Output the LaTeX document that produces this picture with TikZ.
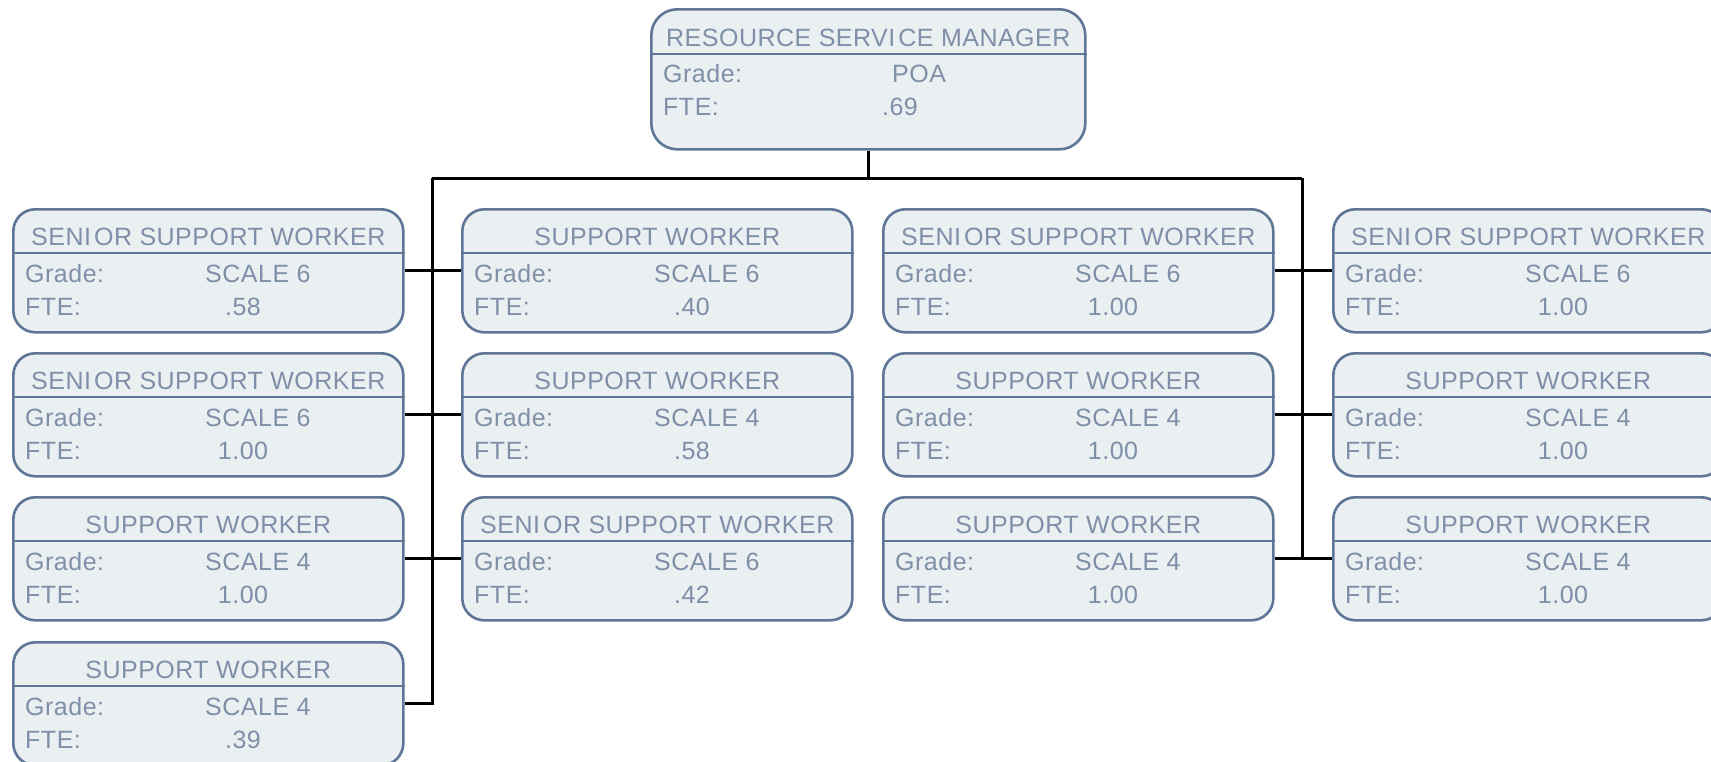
\documentclass[tikz,border=0pt]{standalone}
\usepackage{fontspec}
\newfontfamily\cardfont{Liberation Sans}[LetterSpace=2]
\definecolor{cardborder}{HTML}{5F7697}
\definecolor{cardfill}{HTML}{EAEFF2}
\definecolor{cardtext}{HTML}{7F8FA8}
\tikzset{
  cardbox/.style={draw=cardborder, fill=cardfill, line width=2.6pt, rounded corners=22pt,
    rectangle, inner sep=0pt, minimum width=390pt, minimum height=123pt, anchor=north west},
  sepline/.style={draw=cardborder, line width=2.6pt},
  cardtxt/.style={inner sep=0pt, text=cardtext, font=\cardfont\fontsize{25}{30}\selectfont},
  conn/.style={draw=black, line width=3pt},
}
\newcommand\SENIOR{SENI\kern3pt OR}
\newcommand\orgcard[6]{%
  \node[cardbox] (#1) at (#2,#3) {};
  \draw[sepline] ([yshift=-45pt]#1.north west) -- ([yshift=-45pt]#1.north east);
  \node[cardtxt, anchor=base] (#1-t) at ([yshift=-37pt]#1.north) {#4};
  \node[cardtxt, anchor=base west] (#1-gl) at ([xshift=13pt,yshift=-74pt]#1.north west) {Grade:};
  \node[cardtxt, anchor=base west] (#1-gv) at ([xshift=193pt,yshift=-74pt]#1.north west) {#5};
  \node[cardtxt, anchor=base west] (#1-fl) at ([xshift=13pt,yshift=-107pt]#1.north west) {FTE:};
  \node[cardtxt, anchor=base] (#1-fv) at ([xshift=231pt,yshift=-107pt]#1.north west) {#6};
}
\begin{document}
\begin{tikzpicture}[x=1pt,y=-1pt]
\useasboundingbox (0,0) rectangle (1711,761);
\clip (0,0) rectangle (1711,761);
\fill[white] (0,0) rectangle (1711,761);
% top box
\node[cardbox, minimum width=434pt, minimum height=140pt, rounded corners=26pt] (top) at (650,8) {};
\draw[sepline] ([yshift=-46pt]top.north west) -- ([yshift=-46pt]top.north east);
\node[cardtxt, anchor=base] (top-t) at ([yshift=-38.5pt]top.north) {RESOURCE SERVI\kern3pt CE MANAGER};
\node[cardtxt, anchor=base west] (top-gl) at ([xshift=13pt,yshift=-74pt]top.north west) {Grade:};
\node[cardtxt, anchor=base west] (top-gv) at ([xshift=242pt,yshift=-74pt]top.north west) {POA};
\node[cardtxt, anchor=base west] (top-fl) at ([xshift=13pt,yshift=-107pt]top.north west) {FTE:};
\node[cardtxt, anchor=base] (top-fv) at ([xshift=250pt,yshift=-107pt]top.north west) {.69};
% column 1
\orgcard{c11}{12}{208}{\SENIOR{} SUPPORT WORKER}{SCALE 6}{.58}
\orgcard{c12}{12}{352}{\SENIOR{} SUPPORT WORKER}{SCALE 6}{1.00}
\orgcard{c13}{12}{496}{SUPPORT WORKER}{SCALE 4}{1.00}
\orgcard{c14}{12}{641}{SUPPORT WORKER}{SCALE 4}{.39}
% column 2
\orgcard{c21}{461}{208}{SUPPORT WORKER}{SCALE 6}{.40}
\orgcard{c22}{461}{352}{SUPPORT WORKER}{SCALE 4}{.58}
\orgcard{c23}{461}{496}{\SENIOR{} SUPPORT WORKER}{SCALE 6}{.42}
% column 3
\orgcard{c31}{882}{208}{\SENIOR{} SUPPORT WORKER}{SCALE 6}{1.00}
\orgcard{c32}{882}{352}{SUPPORT WORKER}{SCALE 4}{1.00}
\orgcard{c33}{882}{496}{SUPPORT WORKER}{SCALE 4}{1.00}
% column 4
\orgcard{c41}{1332}{208}{\SENIOR{} SUPPORT WORKER}{SCALE 6}{1.00}
\orgcard{c42}{1332}{352}{SUPPORT WORKER}{SCALE 4}{1.00}
\orgcard{c43}{1332}{496}{SUPPORT WORKER}{SCALE 4}{1.00}
% connectors
\coordinate (busL) at (432,178);
\coordinate (busR) at (1302,178);
\draw[conn] (top.south) -- (top.south |- busL);
\draw[conn] (busL) -- (busR);
\draw[conn] (busL) -- (busL |- c14.east) -- (c14.east);
\draw[conn] (busR) -- (busR |- c33.east);
\draw[conn] (c11.east) -- (c21.west);
\draw[conn] (c12.east) -- (c22.west);
\draw[conn] (c13.east) -- (c23.west);
\draw[conn] (c31.east) -- (c41.west);
\draw[conn] (c32.east) -- (c42.west);
\draw[conn] (c33.east) -- (c43.west);
\end{tikzpicture}
\end{document}
